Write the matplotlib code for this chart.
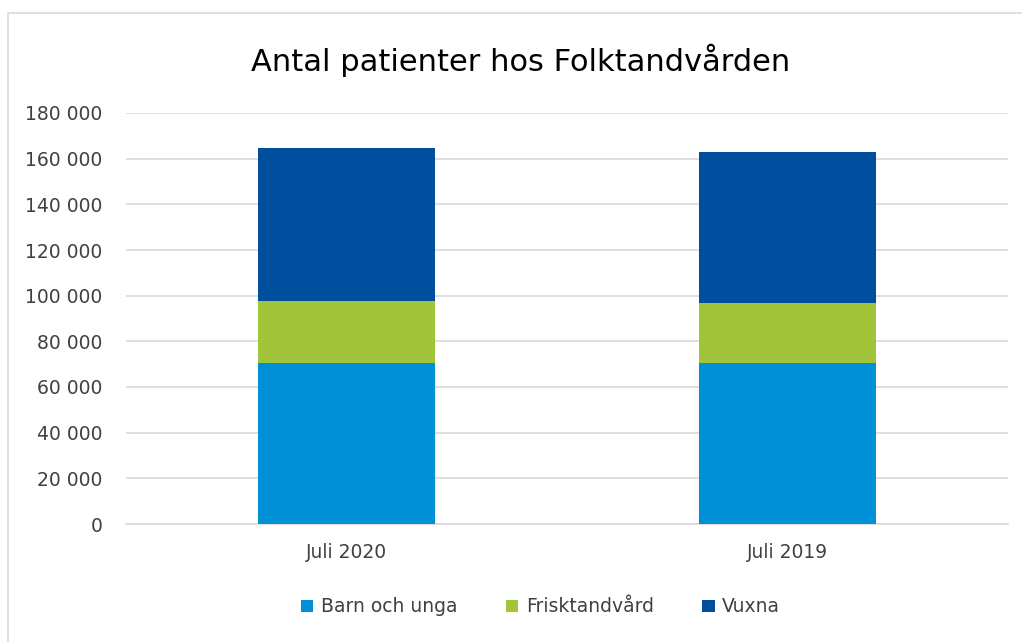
import matplotlib
matplotlib.use("Agg")
import matplotlib.pyplot as plt
from matplotlib.patches import Rectangle

categories = ["Juli 2020", "Juli 2019"]
series_names = ["Barn och unga", "Frisktandvård", "Vuxna"]
barn = [70300, 70300]
frisk = [27200, 26350]
vuxna = [67300, 66350]
colors = ["#0090D6", "#A1C43A", "#004F9F"]
yticks = [0, 20000, 40000, 60000, 80000, 100000, 120000, 140000, 160000, 180000]
ytick_labels = ["0", "20 000", "40 000", "60 000", "80 000", "100 000", "120 000", "140 000", "160 000", "180 000"]

plt.rcParams['font.family'] = ['DejaVu Sans']

fig = plt.figure(figsize=(10.22, 6.42), dpi=100)
fig.patches.append(Rectangle((8/1022, -0.01), 1.02, 1 - 13/642 + 0.01, transform=fig.transFigure,
                             fill=False, edgecolor="#D9D9D9", linewidth=1.2))
ax = fig.add_axes([126/1022, 1 - 524/642, (1008 - 126)/1022, (524 - 113)/642])

x = list(range(len(categories)))
bottoms = [0] * len(categories)
for vals, name, c in zip([barn, frisk, vuxna], series_names, colors):
    ax.bar(x, vals, width=0.4, bottom=bottoms, color=c, label=name, zorder=3)
    bottoms = [b + v for b, v in zip(bottoms, vals)]

ax.set_xlim(-0.5, 1.5)
ax.set_ylim(0, 180000)
ax.set_yticks(yticks)
ax.set_yticklabels(ytick_labels, fontsize=13.5, color="#404040")
ax.set_xticks(x)
ax.set_xticklabels(categories, fontsize=13.5, color="#404040")
ax.tick_params(axis="both", length=0)
ax.tick_params(axis="x", pad=14)
ax.tick_params(axis="y", pad=17)
ax.grid(axis="y", color="#D9D9D9", linewidth=1.2, zorder=0)
for s in ["top", "right", "left"]:
    ax.spines[s].set_visible(False)
ax.spines["bottom"].set_color("#D9D9D9")
ax.spines["bottom"].set_linewidth(1.2)

fig.text(0.509, 1 - 60/642, "Antal patienter hos Folktandvården", ha="center", va="center",
         fontsize=22, color="#000000")

leg = fig.legend(loc="center", bbox_to_anchor=(0.529, 1 - 607/642), ncol=3, frameon=False,
                 fontsize=13.5, handlelength=0.65, handleheight=0.65, columnspacing=2.6, handletextpad=0.4)
for t in leg.get_texts():
    t.set_color("#404040")

fig.savefig("out.png", dpi=100, facecolor="white")
